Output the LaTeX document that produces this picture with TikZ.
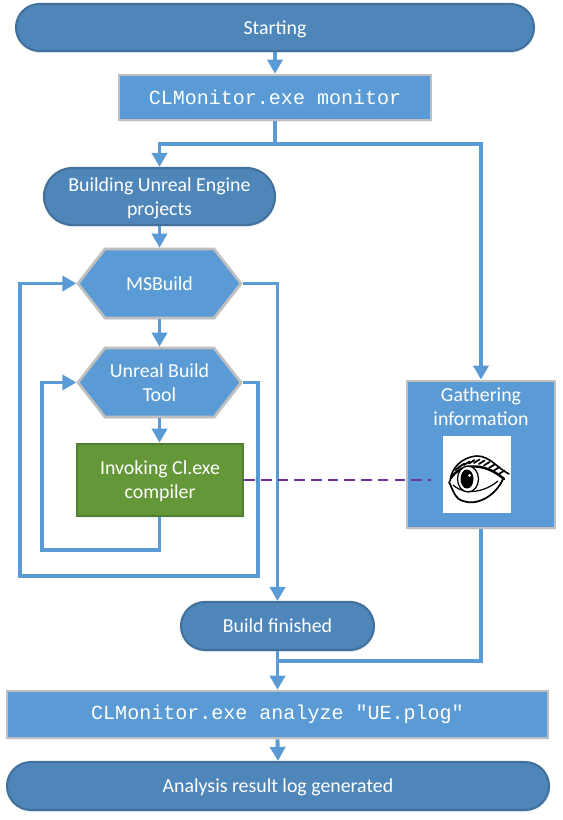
\documentclass[tikz,border=0pt]{standalone}
\usepackage{fontspec}
\setmainfont{Carlito}
\setmonofont{Liberation Mono}
\usepackage{xcolor}
\usetikzlibrary{arrows.meta, positioning, shapes.misc, shapes.symbols, shadows}
\definecolor{boxBlue}{HTML}{5B9BD5}
\definecolor{pillBlue}{HTML}{4F86B9}
\definecolor{pillEdge}{HTML}{41719C}
\definecolor{boxGray}{HTML}{BFBFBF}
\definecolor{stepGreen}{HTML}{639738}
\definecolor{stepEdge}{HTML}{507E32}
\definecolor{dashPurple}{HTML}{7030A0}
\tikzset{
    softShadow/.style={drop shadow={shadow xshift=0.6pt, shadow yshift=-1.2pt, opacity=0.12, fill=boxBlue}},
    pillNode/.style={rounded rectangle, draw=pillEdge, fill=pillBlue, line width=1.2pt, text=white, align=center, text depth=0pt, inner sep=0pt, softShadow, font=\fontsize{11.3}{13.7}\selectfont},
    cmdNode/.style={rectangle, draw=boxGray, fill=boxBlue, line width=1.5pt, text=white, inner sep=0pt, softShadow, font=\ttfamily\fontsize{11.4}{13}\selectfont},
    hexNode/.style={signal, signal to=east and west, signal pointer angle=104, draw=boxGray, fill=boxBlue, line width=1.5pt, text=white, align=center, inner sep=0pt, softShadow, minimum width=163*0.02cm, minimum height=69*0.02cm, font=\fontsize{11.3}{13.7}\selectfont},
    flow/.style={-{Triangle[length=8pt, width=8.6pt]}, boxBlue, line width=2.2pt},
    flowPlain/.style={boxBlue, line width=2.2pt}
}

\begin{document}
\begin{tikzpicture}[x=0.02cm, y=-0.02cm]
    \useasboundingbox (0,0) rectangle (563,820);
    \fill[white] (0,0) rectangle (563,820);
    % free corners of the connectors
    \coordinate (split) at (275,144);
    \coordinate (merge) at (277,661);
    \coordinate (innerCorner) at (42,550);
    \coordinate (outerRight) at (258,576);
    \coordinate (outerLeft) at (20,576);
    \coordinate (dashEnd) at (431,480);

    \node[pillNode, minimum width=518*0.02cm, minimum height=47*0.02cm] (starting) at (275,27.5) {Starting};
    \node[cmdNode, minimum width=312*0.02cm, minimum height=45*0.02cm] (monitor) at (275,97.5) {CLMonitor.exe monitor};
    \node[pillNode, minimum width=231*0.02cm, minimum height=57*0.02cm] (building) at (159.5,196.5) {Building Unreal Engine\\projects};
    \node[hexNode] (msbuild) at (159.5,283.5) {MSBuild};
    \node[hexNode] (unreal) at (159.5,382.5) {Unreal Build\\Tool};
    \node[rectangle, draw=stepEdge, fill=stepGreen, line width=1.5pt, text=white, align=center, text depth=0pt, inner sep=0pt, softShadow,
        minimum width=166*0.02cm, minimum height=72*0.02cm, font=\fontsize{11.3}{13.7}\selectfont] (invoking) at (160,480) {Invoking Cl.exe\\compiler};
    \node[rectangle, draw=boxGray, fill=boxBlue, line width=1.6pt, text=white, align=center, inner sep=0pt, softShadow,
        minimum width=148*0.02cm, minimum height=147*0.02cm] (gathering) at (481,454.5) {};
    \node[text=white, align=center, inner sep=0pt, font=\fontsize{11.3}{13.7}\selectfont] (gatherText) at (481,407) {Gathering\\information};
    \node[rectangle, fill=white, inner sep=0pt, minimum width=68*0.02cm, minimum height=77*0.02cm] (eyeBox) at (477,474.5) {};
    \node[pillNode, minimum width=193*0.02cm, minimum height=48*0.02cm] (finished) at (277.5,626) {Build finished};
    \node[cmdNode, minimum width=541*0.02cm, minimum height=47*0.02cm] (analyze) at (277.5,714.5) {CLMonitor.exe analyze "UE.plog"};
    \node[pillNode, minimum width=542*0.02cm, minimum height=48*0.02cm] (analysis) at (278,786) {Analysis result log generated};

    % the eye
    \draw[black, line width=0.9pt, line cap=round] (450,481) .. controls (451,469) and (461,457) .. (477,456) .. controls (490,456) and (497,468) .. (509,474);
    \draw[black, line width=1.4pt, line cap=round] (451,478) .. controls (459,465) and (482,460) .. (504,479);
    \draw[black, line width=1pt, line cap=round] (449,482) .. controls (453,490) and (455,499) .. (463,501) .. controls (476,506) and (495,497) .. (503,479);
    \draw[black, line width=0.7pt] (453,485) .. controls (465,496) and (485,492) .. (498,481);
    \draw[black, line width=0.7pt, fill=white] (468,479) ellipse (10.5 and 13);
    \fill[black] (467,479) ellipse (6.5 and 9.5);
    \fill[white] (469.5,475.5) circle (1.5);
    \foreach \lx/\ly in {455/470, 459/467, 464/465, 469/463.5, 474/463, 479/464, 484/465.5, 489/468, 494/470.5, 499/474}
        \draw[black, line width=1pt, line cap=round] (\lx,\ly) -- ++(5.5,-3.5);

    \draw[flow] (starting.south -| monitor.north) -- (monitor.north);
    \draw[flow] (monitor.south) -- (split) -| (building.north);
    \draw[flow] (split) -| (gathering.north);
    \draw[flow] (building.south) -- (msbuild.north);
    \draw[flow] (msbuild.south) -- (unreal.north);
    \draw[flow] (unreal.south) -- (invoking.north -| unreal.south);
    \draw[flow] (invoking.south -| unreal.south) |- (innerCorner) |- (unreal.west);
    \draw[flow] (unreal.east) -| (outerRight) -- (outerLeft) |- (msbuild.west);
    \draw[flow] (msbuild.east) -| (finished.north);
    \draw[flow] (finished.south) -- (analyze.north);
    \draw[flowPlain] (gathering.south) |- (merge);
    \draw[flow] (analyze.south) -- (analysis.north);
    \draw[dashPurple, line width=1.5pt, dash pattern=on 6pt off 3.5pt] (invoking.east) -- (dashEnd);
\end{tikzpicture}
\end{document}
